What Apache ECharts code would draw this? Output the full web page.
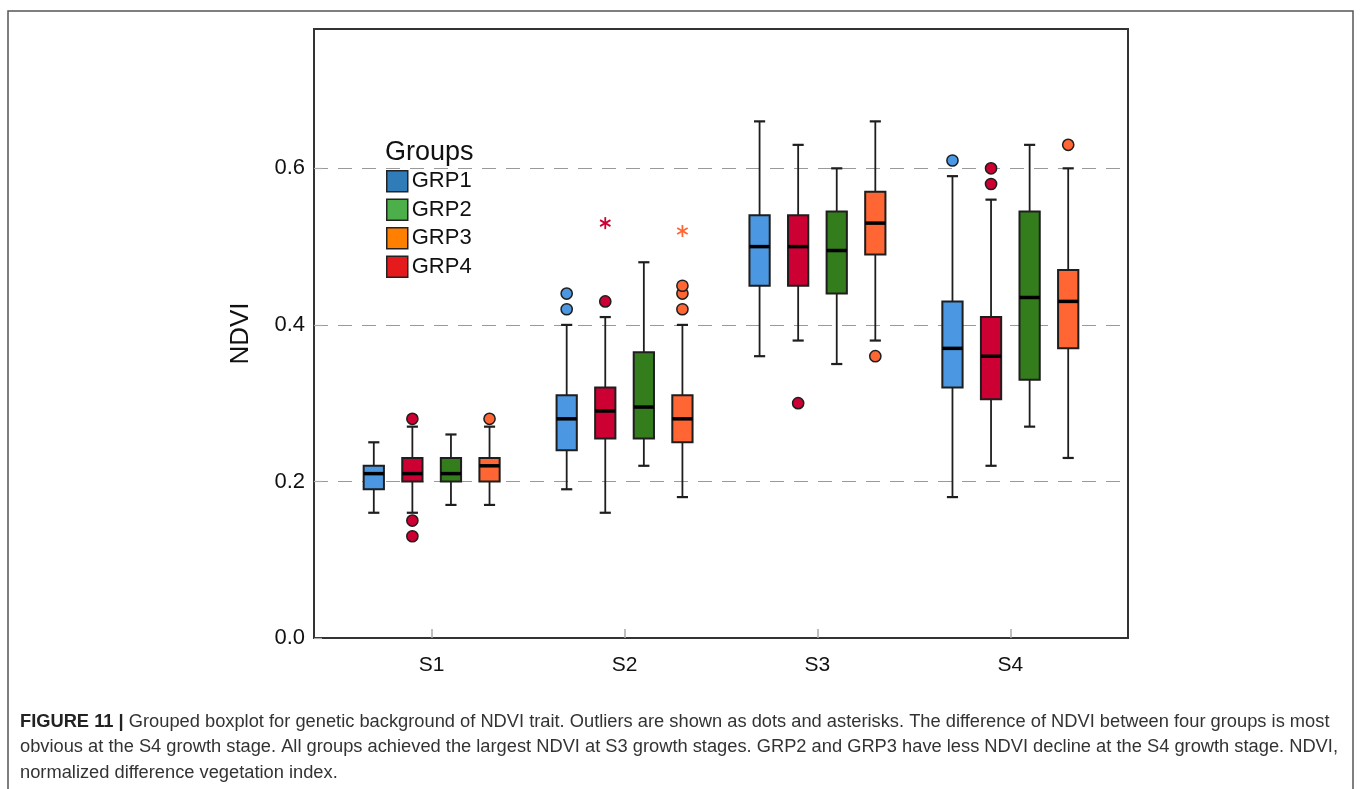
<!DOCTYPE html>
<html>
<head>
<meta charset="utf-8">
<script src="https://cdn.jsdelivr.net/npm/echarts@6/dist/echarts.min.js"></script>
<style>
html,body{margin:0;padding:0;background:#fff;}
#chart{width:1360px;height:789px;}
</style>
</head>
<body>
<div id="chart"></div>
<script>
// ---- Data ----
const stages = ['S1', 'S2', 'S3', 'S4'];
const groups = ['GRP1', 'GRP2', 'GRP3', 'GRP4'];
const yTicks = [0, 0.2, 0.4, 0.6];

// [whiskerLow, Q1, median, Q3, whiskerHigh] per stage
const grp1Box = [[0.16, 0.19, 0.21, 0.22, 0.25], [0.19, 0.24, 0.28, 0.31, 0.40], [0.36, 0.45, 0.50, 0.54, 0.66], [0.18, 0.32, 0.37, 0.43, 0.59]];
const grp2Box = [[0.17, 0.20, 0.21, 0.23, 0.26], [0.22, 0.255, 0.295, 0.365, 0.48], [0.35, 0.44, 0.495, 0.545, 0.60], [0.27, 0.33, 0.435, 0.545, 0.63]];
const grp3Box = [[0.17, 0.20, 0.22, 0.23, 0.27], [0.18, 0.25, 0.28, 0.31, 0.40], [0.38, 0.49, 0.53, 0.57, 0.66], [0.23, 0.37, 0.43, 0.47, 0.60]];
const grp4Box = [[0.16, 0.20, 0.21, 0.23, 0.27], [0.16, 0.255, 0.29, 0.32, 0.41], [0.38, 0.45, 0.50, 0.54, 0.63], [0.22, 0.305, 0.36, 0.41, 0.56]];

// outliers (dots): [stageIndex, value]
const grp1Outliers = [[1, 0.42], [1, 0.44], [3, 0.61]];
const grp2Outliers = [];
const grp3Outliers = [[0, 0.28], [1, 0.42], [1, 0.44], [1, 0.45], [2, 0.36], [3, 0.63]];
const grp4Outliers = [[0, 0.28], [0, 0.15], [0, 0.13], [1, 0.43], [2, 0.30], [3, 0.58], [3, 0.60]];

// extremes (asterisks): [stageIndex, value]
const grp1Extremes = [];
const grp2Extremes = [];
const grp3Extremes = [[1, 0.52]];
const grp4Extremes = [[1, 0.53]];

// ---- Styles ----
const plotColors = { GRP1: '#4b97e1', GRP2: '#347d1d', GRP3: '#ff6633', GRP4: '#cc0033' };
const legendColors = { GRP1: '#2f7cb8', GRP2: '#4daf4a', GRP3: '#ff7f00', GRP4: '#e41a1c' };
// position within stage (plot order GRP1, GRP4, GRP2, GRP3)
const offsets = { GRP1: -0.3, GRP4: -0.1, GRP2: 0.1, GRP3: 0.3 };
const BOX_W = 0.105;
const STROKE = '#1e1e1e';

const boxData = { GRP1: grp1Box, GRP2: grp2Box, GRP3: grp3Box, GRP4: grp4Box };
const outData = { GRP1: grp1Outliers, GRP2: grp2Outliers, GRP3: grp3Outliers, GRP4: grp4Outliers };
const extData = { GRP1: grp1Extremes, GRP2: grp2Extremes, GRP3: grp3Extremes, GRP4: grp4Extremes };

function boxRenderer(g) {
  return function (params, api) {
    const x = api.value(0) + 1 + offsets[g];
    const pMin = api.coord([x, api.value(1)]);
    const pQ1 = api.coord([x, api.value(2)]);
    const pMed = api.coord([x, api.value(3)]);
    const pQ3 = api.coord([x, api.value(4)]);
    const pMax = api.coord([x, api.value(5)]);
    const w = api.size([BOX_W, 0])[0];
    const cw = w * 0.55;
    const cx = pMed[0];
    const ls = { stroke: STROKE, lineWidth: 1.8 };
    return {
      type: 'group',
      children: [
        { type: 'line', shape: { x1: cx, y1: pMin[1], x2: cx, y2: pQ1[1] }, style: ls },
        { type: 'line', shape: { x1: cx, y1: pQ3[1], x2: cx, y2: pMax[1] }, style: ls },
        { type: 'line', shape: { x1: cx - cw / 2, y1: pMin[1], x2: cx + cw / 2, y2: pMin[1] }, style: { stroke: STROKE, lineWidth: 2.2 } },
        { type: 'line', shape: { x1: cx - cw / 2, y1: pMax[1], x2: cx + cw / 2, y2: pMax[1] }, style: { stroke: STROKE, lineWidth: 2.2 } },
        { type: 'rect', shape: { x: cx - w / 2, y: pQ3[1], width: w, height: pQ1[1] - pQ3[1] }, style: { fill: plotColors[g], stroke: STROKE, lineWidth: 2 } },
        { type: 'line', shape: { x1: cx - w / 2, y1: pMed[1], x2: cx + w / 2, y2: pMed[1] }, style: { stroke: '#000', lineWidth: 3.5 } }
      ]
    };
  };
}

function outlierRenderer(g) {
  return function (params, api) {
    const p = api.coord([api.value(0) + 1 + offsets[g], api.value(1)]);
    return { type: 'circle', shape: { cx: p[0], cy: p[1], r: 5.6 }, style: { fill: plotColors[g], stroke: STROKE, lineWidth: 1.5 } };
  };
}

function extremeRenderer(g) {
  return function (params, api) {
    const p = api.coord([api.value(0) + 1 + offsets[g], api.value(1)]);
    const r = 6;
    const kids = [];
    for (let k = 0; k < 3; k++) {
      const a = Math.PI / 2 + k * Math.PI / 3;
      kids.push({ type: 'line', shape: { x1: p[0] - r * Math.cos(a), y1: p[1] - r * Math.sin(a), x2: p[0] + r * Math.cos(a), y2: p[1] + r * Math.sin(a) }, style: { stroke: plotColors[g], lineWidth: 1.8 } });
    }
    return { type: 'group', children: kids };
  };
}

const series = [];
groups.forEach(g => {
  series.push({
    name: g, type: 'custom', renderItem: boxRenderer(g),
    itemStyle: { color: legendColors[g] },
    data: boxData[g].map((b, i) => [i].concat(b)),
    encode: { x: 0, y: [1, 2, 3, 4, 5] }, z: 3, silent: true
  });
  series.push({
    name: g, type: 'custom', renderItem: outlierRenderer(g),
    itemStyle: { color: legendColors[g] },
    data: outData[g], encode: { x: 0, y: 1 }, z: 4, silent: true
  });
  series.push({
    name: g, type: 'custom', renderItem: extremeRenderer(g),
    itemStyle: { color: legendColors[g] },
    data: extData[g], encode: { x: 0, y: 1 }, z: 4, silent: true
  });
});

const captionText =
  '{b|FIGURE 11 |} Grouped boxplot for genetic background of NDVI trait. Outliers are shown as dots and asterisks. The difference of NDVI between four groups is most\n' +
  'obvious at the S4 growth stage. All groups achieved the largest NDVI at S3 growth stages. GRP2 and GRP3 have less NDVI decline at the S4 growth stage. NDVI,\n' +
  'normalized difference vegetation index.';

const FONT = '"Liberation Sans", Arial, sans-serif';
const CAPFONT = '"Liberation Sans", Arial, sans-serif';

const chart = echarts.init(document.getElementById('chart'), null, { renderer: 'canvas' });
chart.setOption({
  animation: false,
  backgroundColor: '#fff',
  textStyle: { fontFamily: FONT },
  title: [
    { text: 'Groups', left: 385, top: 139, padding: 0, textStyle: { fontSize: 27, fontWeight: 'normal', color: '#111', fontFamily: FONT } },
    {
      text: captionText, left: 20, top: 709, padding: 0,
      textStyle: {
        fontSize: 18.3, fontWeight: 'normal', color: '#333', fontFamily: CAPFONT, lineHeight: 25.5,
        rich: { b: { fontSize: 18.3, fontWeight: 'bold', color: '#222', fontFamily: CAPFONT, lineHeight: 25.5 } }
      }
    }
  ],
  legend: {
    orient: 'vertical', left: 381, top: 165, padding: 5,
    itemWidth: 21, itemHeight: 21, itemGap: 6, icon: 'rect',
    selectedMode: false,
    textStyle: { fontSize: 22, color: '#111', fontFamily: FONT, padding: [0, 0, 0, -1] },
    data: groups.map(g => ({ name: g, itemStyle: { color: legendColors[g], borderColor: '#222', borderWidth: 1.5 } }))
  },
  graphic: [
    { type: 'rect', shape: { x: 8, y: 11, width: 1345, height: 800 }, style: { fill: 'none', stroke: '#555', lineWidth: 1.5 }, silent: true }
  ],
  grid: { left: 314, right: 232, top: 29, bottom: 151, show: true, borderColor: '#333', borderWidth: 2, containLabel: false },
  xAxis: {
    type: 'value', min: 0.39, max: 4.61,
    splitLine: { show: false },
    axisLine: { show: true, lineStyle: { color: '#333', width: 2 } },
    axisTick: { show: true, inside: true, length: 9, customValues: [1, 2, 3, 4], lineStyle: { color: '#aaa', width: 1.5 } },
    axisLabel: { customValues: [1, 2, 3, 4], formatter: v => stages[Math.round(v) - 1], fontSize: 21, color: '#111', margin: 17, fontFamily: FONT }
  },
  yAxis: {
    type: 'value', min: 0, max: 0.778, interval: 0.2,
    name: 'NDVI', nameLocation: 'middle', nameGap: 60, nameRotate: 90,
    nameTextStyle: { fontSize: 26, color: '#111', fontFamily: FONT },
    axisLine: { show: true, lineStyle: { color: '#333', width: 2 } },
    axisTick: { show: true, inside: true, length: 8, customValues: yTicks, lineStyle: { color: '#aaa', width: 1.2 } },
    axisLabel: { customValues: yTicks, formatter: v => v.toFixed(1), fontSize: 22, color: '#111', margin: 9, fontFamily: FONT },
    splitLine: { show: true, lineStyle: { color: '#999', width: 1.2, type: [14, 10] } }
  },
  series: series
});
</script>
</body>
</html>
